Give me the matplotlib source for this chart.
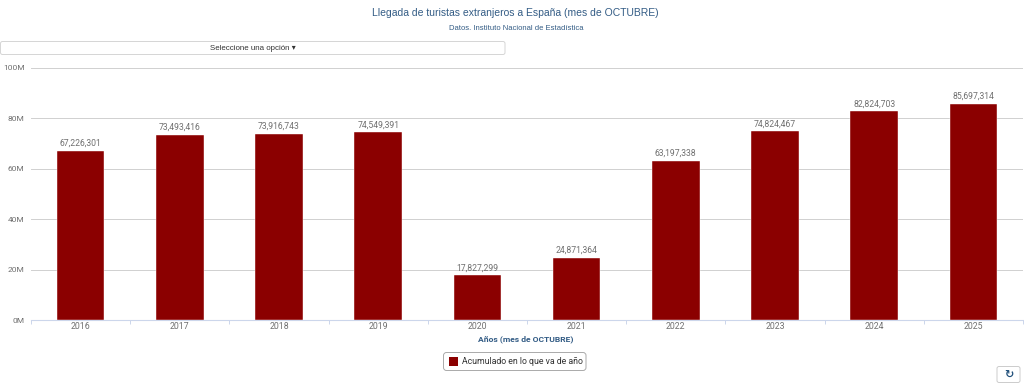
import matplotlib
matplotlib.use("Agg")
import matplotlib.pyplot as plt
from matplotlib.patches import FancyBboxPatch, Rectangle

years = ["2016", "2017", "2018", "2019", "2020", "2021", "2022", "2023", "2024", "2025"]
values = [67226301, 73493416, 73916743, 74549391, 17827299, 24871364, 63197338, 74824467, 82824703, 85697314]
y_ticks = [0, 20e6, 40e6, 60e6, 80e6, 100e6]
y_labels = ["0M", "20M", "40M", "60M", "80M", "100M"]

W, H = 1024, 386
BAR = "#8b0000"
TXT = "#707070"
BLUE = "#335c85"

def box(x0, y0, x1, y1, ec="#cccccc", rad=2, lw=0.7):
    p = FancyBboxPatch((x0, H - y1), x1 - x0, y1 - y0, boxstyle="round,pad=0,rounding_size=%s" % rad,
                       fc="white", ec=ec, lw=lw, transform=over.transData)
    over.add_patch(p)

fig = plt.figure(figsize=(W / 100, H / 100), dpi=100)
ax = fig.add_axes([31 / W, 1 - 320.4 / H, 992 / W, 252.6 / H])

x = range(len(years))
ax.bar(x, values, width=0.48, color=BAR, edgecolor="white", linewidth=0.3, zorder=3)
ax.set_xlim(-0.5, len(years) - 0.5)
ax.set_ylim(0, 100e6)

ax.set_yticks(y_ticks)
ax.set_yticklabels(y_labels, fontsize=6, color=TXT, family="Roboto")
ax.grid(axis="y", color="#d0d0d0", lw=0.7, zorder=0)
ax.tick_params(axis="y", length=0, pad=4.5)

ax.set_xticks(list(x))
ax.set_xticklabels(years, fontsize=6.3, color=TXT, family="Roboto")
ax.set_xticks([i - 0.5 for i in x] + [len(years) - 0.5], minor=True)
ax.tick_params(axis="x", which="major", length=0, pad=1.5)
ax.tick_params(axis="x", which="minor", length=3, color="#ccd6eb", width=0.7)

for s in ["top", "right", "left"]:
    ax.spines[s].set_visible(False)
ax.spines["bottom"].set_color("#ccd6eb")

for i, v in zip(x, values):
    ax.annotate(format(v, ","), (i, v), xytext=(0, 2), textcoords="offset points", ha="center", va="bottom",
                fontsize=6.2, color=TXT, family="Roboto", zorder=4)

# everything outside the plot, in pixel coordinates
over = fig.add_axes([0, 0, 1, 1], facecolor="none")
over.set_xlim(0, W)
over.set_ylim(0, H)
over.axis("off")

over.text(515, H - 13, "Llegada de turistas extranjeros a España (mes de OCTUBRE)", ha="center", va="center",
          fontsize=7.45, color=BLUE, family="Liberation Sans")
over.text(516, H - 28.5, "Datos. Instituto Nacional de Estadística", ha="center", va="center",
          fontsize=5.5, color=BLUE, family="Liberation Sans")

box(0.5, 41.5, 505, 54.5, ec="#d5d5d5")
over.text(253, H - 48, "Seleccione una opción ▾", ha="center", va="center", fontsize=5.7, color="#333333",
          family=["Liberation Sans", "DejaVu Sans"])

over.text(526, H - 339, "Años (mes de OCTUBRE)", ha="center", va="center", fontsize=6.1, color=BLUE,
          family="Roboto", fontweight="bold")

box(443.5, 352.5, 586, 370.5, ec="#aaaaaa", rad=3)
over.add_patch(Rectangle((449, H - 366), 9, 9, fc=BAR, ec="none"))
over.text(462, H - 361.5, "Acumulado en lo que va de año", ha="left", va="center", fontsize=6.3, color="#333333",
          family="Roboto")

box(997, 366.5, 1020, 382.5, ec="#cccccc", rad=2)
over.text(1008.5, H - 374.5, "↻", ha="center", va="center", fontsize=8, color="#23527c", family="DejaVu Sans",
          fontweight="bold")

fig.savefig("out.png", dpi=100)
